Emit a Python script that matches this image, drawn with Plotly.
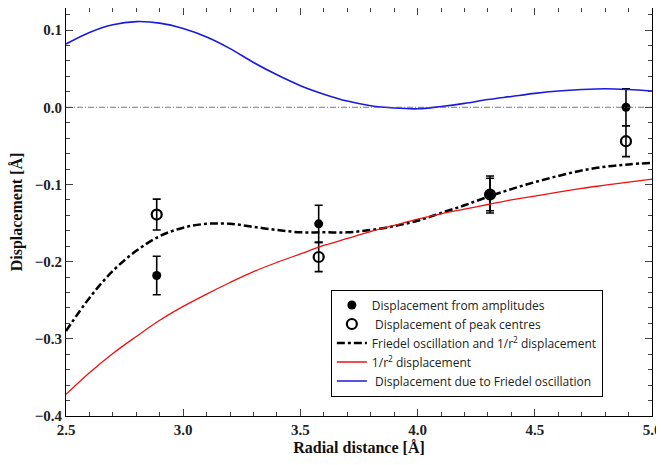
import plotly.graph_objects as go

# Curves
r_curve = [2.5, 2.6, 2.7, 2.8, 2.9, 3.0, 3.1, 3.2, 3.3, 3.4, 3.5, 3.6, 3.7,
           3.8, 3.9, 4.0, 4.1, 4.2, 4.3, 4.4, 4.5, 4.6, 4.7, 4.8, 4.9, 5.0]
friedel = [0.082, 0.097, 0.107, 0.111, 0.109, 0.102, 0.091, 0.076, 0.058, 0.042,
           0.028, 0.017, 0.008, 0.002, -0.001, -0.002, 0.001, 0.005, 0.010, 0.014,
           0.018, 0.021, 0.023, 0.024, 0.023, 0.021]
inv_r2 = [-0.372, -0.344, -0.319, -0.297, -0.276, -0.258, -0.242, -0.227, -0.213,
          -0.201, -0.190, -0.179, -0.170, -0.161, -0.153, -0.145, -0.138, -0.132,
          -0.126, -0.120, -0.115, -0.110, -0.105, -0.101, -0.097, -0.093]
combined = [-0.290, -0.247, -0.212, -0.186, -0.167, -0.156, -0.151, -0.151, -0.155,
            -0.159, -0.162, -0.162, -0.162, -0.159, -0.154, -0.147, -0.137, -0.127,
            -0.116, -0.106, -0.097, -0.089, -0.082, -0.077, -0.074, -0.072]

# Measured points
r_pts = [2.887, 3.578, 4.309, 4.889]
amp_disp = [-0.218, -0.151, -0.113, 0.000]
amp_err = [0.025, 0.024, 0.024, 0.024]
peak_disp = [-0.139, -0.194, -0.113, -0.044]
peak_err = [0.020, 0.019, 0.021, 0.020]

x_ticks = [2.5, 3.0, 3.5, 4.0, 4.5, 5.0]
y_ticks = [-0.4, -0.3, -0.2, -0.1, 0.0, 0.1]

fig = go.Figure()

fig.add_hline(y=0, line=dict(color="#555555", width=0.8, dash="6px,2px,1px,2px"))

fig.add_trace(go.Scatter(
    x=r_pts, y=amp_disp, mode="markers", name="Displacement from amplitudes",
    marker=dict(symbol="circle", size=9, color="black"),
    error_y=dict(type="data", array=amp_err, color="black", thickness=1.6, width=4),
))
fig.add_trace(go.Scatter(
    x=r_pts, y=peak_disp, mode="markers", name=" Displacement of peak centres",
    marker=dict(symbol="circle-open", size=10, color="black", line=dict(width=2.2)),
    error_y=dict(type="data", array=peak_err, color="black", thickness=1.6, width=4),
))
fig.add_trace(go.Scatter(
    x=r_curve, y=combined, mode="lines", line_shape="spline",
    name="Friedel oscillation and 1/r<sup>2</sup> displacement",
    line=dict(color="black", width=2.5, dash="8px,3px,3px,3px"),
))
fig.add_trace(go.Scatter(
    x=r_curve, y=inv_r2, mode="lines", line_shape="spline",
    name="1/r<sup>2</sup> displacement",
    line=dict(color="#ee1111", width=1.3),
))
fig.add_trace(go.Scatter(
    x=r_curve, y=friedel, mode="lines", line_shape="spline",
    name=" Displacement due to Friedel oscillation",
    line=dict(color="#1a1adf", width=1.6),
))

axis_common = dict(
    showline=True, linecolor="black", linewidth=1, mirror="ticks",
    ticks="inside", ticklen=7, tickwidth=1, tickcolor="#444444",
    showgrid=False, zeroline=False,
    tickfont=dict(family="Liberation Serif", size=15, color="#222222", weight="bold"),
)

fig.update_xaxes(
    range=[2.5, 5.0], tickvals=x_ticks, ticktext=[f"{v:.1f}" for v in x_ticks],
    minor=dict(ticks="inside", ticklen=4, dtick=0.1, tick0=2.5, tickcolor="#444444"),
    title=dict(text="Radial distance [Å]", standoff=4,
               font=dict(family="Liberation Serif", size=16, color="#111111", weight="bold")),
    **axis_common,
)
fig.update_yaxes(
    range=[-0.4, 0.1286], tickvals=y_ticks,
    ticktext=["\u22120.4", "\u22120.3", "\u22120.2", "\u22120.1", "0.0", "0.1"],
    minor=dict(ticks="inside", ticklen=4, dtick=0.02, tick0=0, tickcolor="#444444"),
    title=dict(text="Displacement [Å]", standoff=8,
               font=dict(family="Liberation Serif", size=16, color="#111111", weight="bold")),
    **axis_common,
)

# page body has an 8px margin, so the figure is shifted by (8, 8)
fig.update_layout(
    width=656, height=457,
    margin=dict(l=58, r=12, t=0, b=49),
    plot_bgcolor="white", paper_bgcolor="white",
    legend=dict(
        x=0.452, y=0.31, xanchor="left", yanchor="top",
        bordercolor="black", borderwidth=1, bgcolor="white",
        font=dict(family="Open Sans", size=12, color="#222222"),
        traceorder="normal", tracegroupgap=0, itemwidth=30,
    ),
    showlegend=True,
)

fig.write_html("out.html")
